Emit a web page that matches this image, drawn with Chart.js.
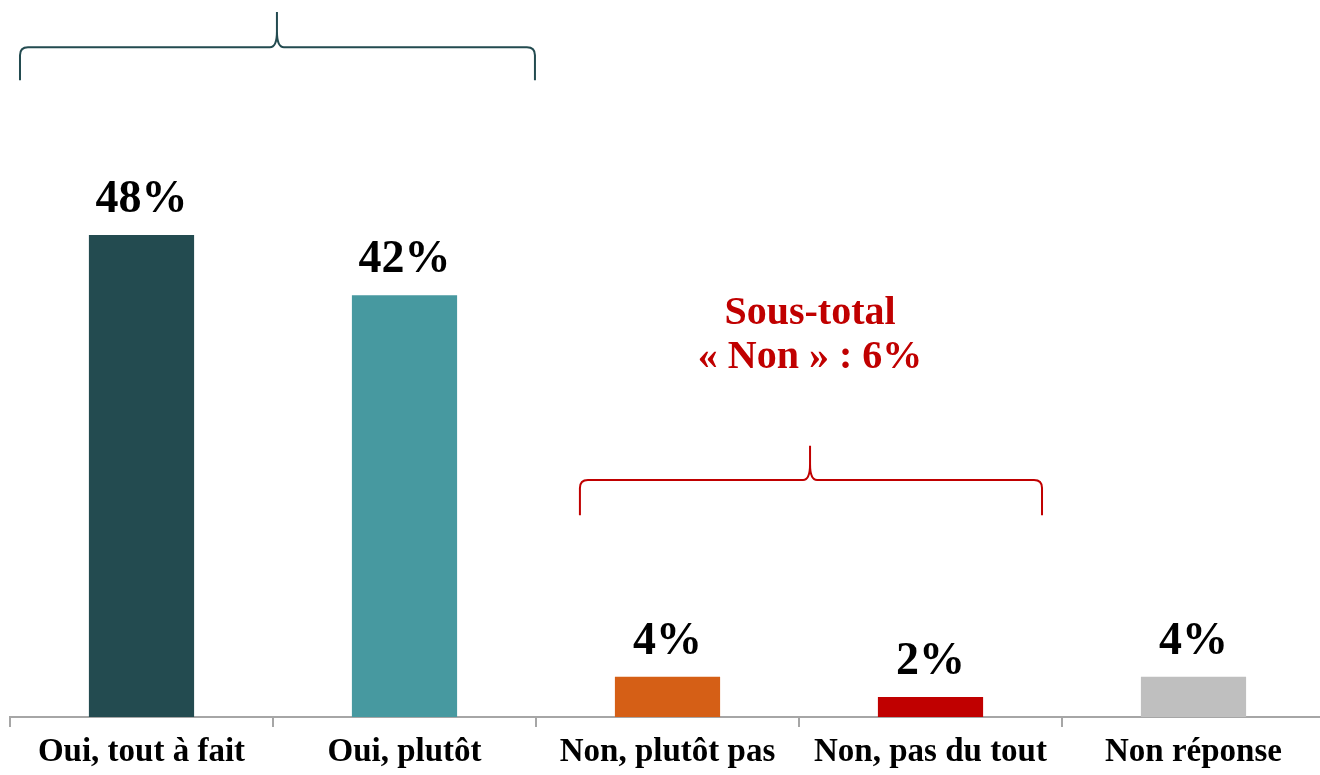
<!DOCTYPE html>
<html>
<head>
<meta charset="utf-8">
<script src="https://cdn.jsdelivr.net/npm/chart.js@4"></script>
<style>
  html, body { margin: 0; padding: 0; background: #fff; overflow: hidden; }
  #wrap { width: 1325px; height: 775px; position: relative; }
</style>
</head>
<body>
<div id="wrap"><canvas id="myChart"></canvas></div>
<script>
// categories + values
var categories = ["Oui, tout à fait", "Oui, plutôt", "Non, plutôt pas", "Non, pas du tout", "Non réponse"];
var percentages = [48, 42, 4, 2, 4];
var barColors = ["#234B50", "#4799A0", "#D55F16", "#C00000", "#BFBFBF"];
var subtotalLines = ["Sous-total", "« Non » : 6%"];

const serif = "'Liberation Serif', 'Times New Roman', serif";

// little helper, draws a curly bracket (x in category units, y in % units)
function drawBracket(ctx, xs, ys, x1, x2, xp, yEnd, yLine, yPeak, color) {
  const a = xs.getPixelForValue(x1), b = xs.getPixelForValue(x2), p = xs.getPixelForValue(xp);
  const e = ys.getPixelForValue(yEnd), h = ys.getPixelForValue(yLine), t = ys.getPixelForValue(yPeak);
  const r = 8;
  ctx.save();
  ctx.strokeStyle = color;
  ctx.lineWidth = 2;
  ctx.beginPath();
  ctx.moveTo(a, e);
  ctx.lineTo(a, h + r);
  ctx.quadraticCurveTo(a, h, a + r, h);
  ctx.lineTo(p - 7, h);
  ctx.quadraticCurveTo(p, h, p, h - 16);
  ctx.lineTo(p, t);
  ctx.moveTo(p, h - 16);
  ctx.quadraticCurveTo(p, h, p + 7, h);
  ctx.lineTo(b - r, h);
  ctx.quadraticCurveTo(b, h, b, h + r);
  ctx.lineTo(b, e);
  ctx.stroke();
  ctx.restore();
}

const extras = {
  id: "extras",
  afterDatasetsDraw(chart) {
    const ctx = chart.ctx;
    const xs = chart.scales.x, ys = chart.scales.y;
    // value labels
    const meta = chart.getDatasetMeta(0);
    ctx.save();
    ctx.fillStyle = "#000";
    ctx.font = "bold 46px " + serif;
    ctx.textAlign = "center";
    ctx.textBaseline = "alphabetic";
    meta.data.forEach(function (bar, i) {
      ctx.fillText(percentages[i] + "%", bar.x, bar.y - 23);
    });
    ctx.restore();

    // brackets
    drawBracket(ctx, xs, ys, -0.462, 1.496, 0.515, 63.4, 66.7, 70.2, "#234B50");
    drawBracket(ctx, xs, ys, 1.667, 3.424, 2.542, 20.1, 23.6, 27.0, "#C00000");

    // subtotal text
    ctx.save();
    ctx.fillStyle = "#C00000";
    ctx.font = "bold 40px " + serif;
    ctx.textAlign = "center";
    ctx.textBaseline = "middle";
    const cx = xs.getPixelForValue(2.542);
    ctx.fillText(subtotalLines[0], cx, 314);
    ctx.fillText(subtotalLines[1], cx, 358);
    ctx.restore();
  }
};

new Chart(document.getElementById("myChart"), {
  type: "bar",
  data: {
    labels: categories,
    datasets: [{
      data: percentages,
      backgroundColor: barColors,
      barPercentage: 0.4,
      categoryPercentage: 1.0
    }]
  },
  options: {
    responsive: true,
    maintainAspectRatio: false,
    animation: false,
    layout: { padding: { left: 10, right: 0, top: 0, bottom: 0 } },
    plugins: { legend: { display: false }, tooltip: { enabled: false } },
    scales: {
      x: {
        afterFit(scale) { scale.height = 58; },
        border: { color: "#A6A6A6", width: 2 },
        grid: { drawOnChartArea: false, color: "#A6A6A6", tickLength: 10, lineWidth: 2, offset: true },
        ticks: {
          color: "#000",
          padding: 6,
          maxRotation: 0,
          autoSkip: false,
          font: { family: serif, size: 33, weight: "bold" }
        }
      },
      y: { display: false, min: 0, max: 71.4 }
    }
  },
  plugins: [extras]
});
</script>
</body>
</html>
